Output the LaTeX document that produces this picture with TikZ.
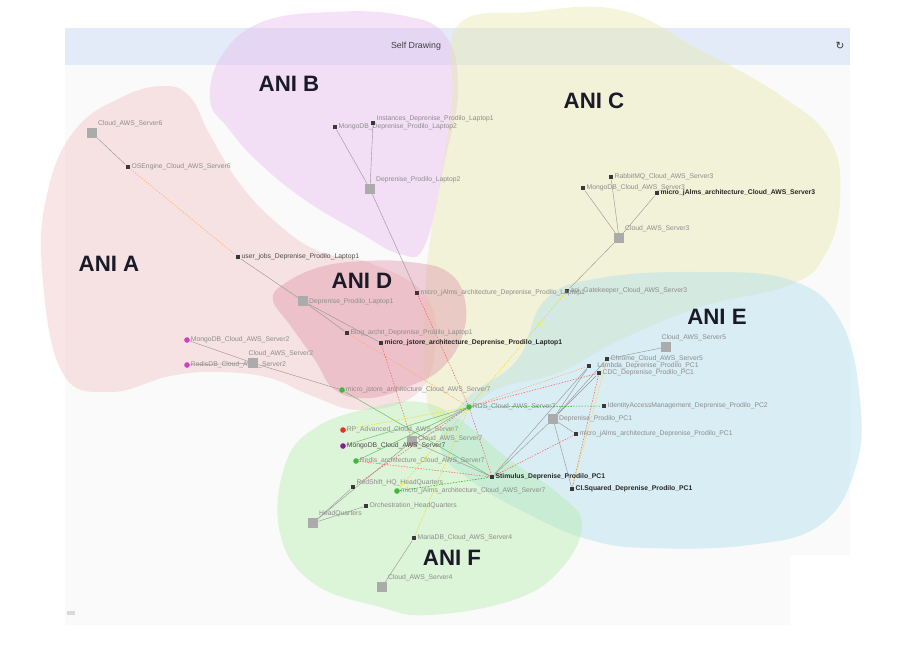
\documentclass[tikz,border=0pt]{standalone}
\usepackage{fontspec}
\setmainfont{Liberation Sans}
\newfontfamily\symfont{DejaVu Sans}
\pgfdeclarelayer{bottom}
\pgfdeclarelayer{blobs}
\pgfdeclarelayer{edges}
\pgfsetlayers{bottom,blobs,edges,main}
\definecolor{panel}{HTML}{FAFAFA}
\definecolor{barblue}{HTML}{E4EBF8}
\definecolor{cA}{HTML}{F0C0C0}
\definecolor{cB}{HTML}{E8B8F0}
\definecolor{cC}{HTML}{E8E8A8}
\definecolor{cD}{HTML}{E090A8}
\definecolor{cE}{HTML}{A8DCEC}
\definecolor{cF}{HTML}{B0ECA4}
\definecolor{anicol}{HTML}{1A1A28}
\definecolor{gnode}{HTML}{40B840}
\definecolor{mnode}{HTML}{D040C0}
\definecolor{pnode}{HTML}{8A1A9A}
\definecolor{rnode}{HTML}{E83030}
\begin{document}
\begin{tikzpicture}[x=0.03cm,y=-0.03cm,
  blob/.style={fill=#1,fill opacity=0.4,draw=none},
  sm/.style={rectangle,fill=black!78,minimum size=4.2pt,inner sep=0pt},
  bigsq/.style={rectangle,fill=black!33,minimum size=8.5pt,inner sep=0pt},
  cnode/.style={circle,fill=#1,minimum size=4.8pt,inner sep=0pt},
  lbl/.style={font=\fontsize{5.8}{6}\selectfont,text=black!45,inner sep=0.6pt},
  lbd/.style={font=\fontsize{5.8}{6}\selectfont\bfseries,text=black!85,inner sep=0.6pt},
  lbm/.style={font=\fontsize{5.8}{6}\selectfont,text=black!70,inner sep=0.6pt},
  ani/.style={font=\fontsize{19}{21}\selectfont\bfseries,text=anicol},
  gl/.style={draw=black!42,line width=0.35pt},
  gs/.style={draw=green!55!black!60,line width=0.4pt},
  od/.style={draw=orange!65,line width=0.45pt,dash pattern=on 1.2pt off 1.2pt},
  rd/.style={draw=red!65,line width=0.45pt,dash pattern=on 1.2pt off 1.2pt},
  yd/.style={draw=yellow!75!orange,line width=0.45pt,dash pattern=on 1.2pt off 1.2pt},
  gd/.style={draw=green!70!black,line width=0.45pt,dash pattern=on 1.2pt off 1.2pt}
]
\useasboundingbox (0,0) rectangle (908,650);
\begin{pgfonlayer}{bottom}
\fill[white] (0,0) rectangle (908,650);
\fill[panel] (65,28) -- (850,28) -- (850,555) -- (790,555) -- (790,625) -- (65,625) -- cycle;
\fill[barblue] (65,28) rectangle (850,65);
\fill[black!15] (67,611) rectangle (75,615);
\end{pgfonlayer}
\node[font=\fontsize{7.5}{8}\selectfont,text=black!75] (title) at (416,46) {Self Drawing};
\node[font=\symfont\fontsize{9}{10}\selectfont,text=black!80] (refresh) at (840,46) {↻};

\begin{pgfonlayer}{blobs}
\fill[blob=cA] plot[smooth cycle,tension=0.7] coordinates {(42,270) (48,190) (75,130) (120,98) (163,86) (190,97) (210,135) (240,184) (278,224) (320,252) (370,263) (425,295) (435,350) (415,395) (360,410) (310,395) (270,378) (220,372) (170,376) (110,392) (62,372)};
\fill[blob=cB] plot[smooth cycle,tension=0.7] coordinates {(210,100) (222,55) (262,22) (330,12) (400,15) (445,35) (458,90) (445,160) (425,245) (400,254) (360,233) (302,198) (256,160) (228,128)};
\fill[blob=cC] plot[smooth cycle,tension=0.7] coordinates {(458,25) (530,12) (620,10) (700,50) (780,95) (830,140) (840,200) (825,255) (790,285) (700,307) (620,340) (560,372) (500,388) (462,412) (435,420) (425,380) (425,300) (430,240) (442,170) (452,100)};
\fill[blob=cD] plot[smooth cycle,tension=0.7] coordinates {(273,300) (284,284) (320,267) (365,261) (410,262) (448,272) (465,300) (462,337) (442,368) (412,385) (370,398) (335,390) (315,360) (290,325)};
\fill[blob=cE] plot[smooth cycle,tension=0.7] coordinates {(600,278) (700,272) (790,280) (840,320) (860,400) (855,470) (820,525) (750,545) (650,548) (590,540) (530,515) (470,480) (440,445) (465,400) (517,360) (545,300)};
\fill[blob=cF] plot[smooth cycle,tension=0.7] coordinates {(280,533) (285,465) (315,428) (370,408) (420,402) (460,420) (510,460) (560,495) (582,525) (560,570) (513,600) (430,615) (380,607) (313,583)};
\end{pgfonlayer}

% group titles
\node[ani] (tA) at (109,264) {ANI A};
\node[ani] (tB) at (289,84) {ANI B};
\node[ani] (tC) at (594,101) {ANI C};
\node[ani] (tD) at (362,281) {ANI D};
\node[ani] (tE) at (717,317) {ANI E};
\node[ani] (tF) at (452,558) {ANI F};

% ANI A
\node[bigsq,label={[lbl,anchor=south west]north east:Cloud\_AWS\_Server6}] (a1) at (92,133) {};
\node[sm,label={[lbl]0:OSEngine\_Cloud\_AWS\_Server6}] (a2) at (128,167) {};
\node[sm,label={[lbm]0:user\_jobs\_Deprenise\_Prodilo\_Laptop1}] (a3) at (238,257) {};
\node[cnode=mnode,label={[lbl]0:MongoDB\_Cloud\_AWS\_Server2}] (p1) at (187,340) {};
\node[cnode=mnode,label={[lbl]0:RedisDB\_Cloud\_AWS\_Server2}] (p2) at (187,365) {};
\node[bigsq,label={[lbl,anchor=south west]north west:Cloud\_AWS\_Server2}] (p3) at (253,363) {};
% ANI B
\node[sm,label={[lbl]0:MongoDB\_Deprenise\_Prodilo\_Laptop2}] (b1) at (335,127) {};
\node[sm,label={[lbl,anchor=south west]east:Instances\_Deprenise\_Prodilo\_Laptop1}] (b2) at (373,123) {};
\node[bigsq,label={[lbl,anchor=south west]north east:Deprenise\_Prodilo\_Laptop2}] (b3) at (370,189) {};
% ANI C
\node[sm,label={[lbl]0:RabbitMQ\_Cloud\_AWS\_Server3}] (c1) at (611,177) {};
\node[sm,label={[lbl]0:MongoDB\_Cloud\_AWS\_Server3}] (c2) at (583,188) {};
\node[sm,label={[lbd]0:micro\_jAlms\_architecture\_Cloud\_AWS\_Server3}] (c3) at (657,193) {};
\node[bigsq,label={[lbl,anchor=south west]north east:Cloud\_AWS\_Server3}] (c4) at (619,238) {};
\node[sm,label={[lbl]0:api\_Gatekeeper\_Cloud\_AWS\_Server3}] (c5) at (567,291) {};
% ANI D
\node[bigsq,label={[lbl,yshift=-1pt]0:Deprenise\_Prodilo\_Laptop1}] (d1) at (303,301) {};
\node[sm,label={[lbl]0:Blog\_archit\_Deprenise\_Prodilo\_Laptop1}] (d2) at (347,333) {};
\node[sm,label={[lbd]0:micro\_jstore\_architecture\_Deprenise\_Prodilo\_Laptop1}] (d3) at (381,343) {};
\node[sm,label={[lbl]0:micro\_jAlms\_architecture\_Deprenise\_Prodilo\_Laptop1}] (d4) at (417,293) {};
% ANI F
\node[cnode=gnode,label={[lbl]0:micro\_jstore\_architecture\_Cloud\_AWS\_Server7}] (g1) at (342,390) {};
\node[cnode=gnode,label={[lbl]0:RDS\_Cloud\_AWS\_Server7}] (g2) at (469,407) {};
\node[bigsq,label={[lbl,anchor=west,yshift=2pt]east:Cloud\_AWS\_Server7}] (g3) at (412,441) {};
\node[cnode=rnode,label={[lbl]0:RP\_Advanced\_Cloud\_AWS\_Server7}] (r1) at (343,430) {};
\node[cnode=pnode,label={[lbm]0:MongoDB\_Cloud\_AWS\_Server7}] (m1) at (343,446) {};
\node[cnode=gnode,label={[lbl]0:Redis\_architecture\_Cloud\_AWS\_Server7}] (g4) at (356,461) {};
\node[sm,label={[lbl,anchor=south west]east:RedShift\_HQ\_HeadQuarters}] (f1) at (353,487) {};
\node[cnode=gnode,label={[lbl]0:micro\_jAlms\_architecture\_Cloud\_AWS\_Server7}] (g5) at (397,491) {};
\node[sm,label={[lbl]0:Orchestration\_HeadQuarters}] (f2) at (366,506) {};
\node[bigsq,label={[lbl,anchor=south west]north east:HeadQuarters}] (f3) at (313,523) {};
\node[sm,label={[lbl]0:MariaDB\_Cloud\_AWS\_Server4}] (f4) at (414,538) {};
\node[bigsq,label={[lbl,anchor=south west]north east:Cloud\_AWS\_Server4}] (f5) at (382,587) {};
% ANI E
\node[sm,label={[lbd]0:Stimulus\_Deprenise\_Prodilo\_PC1}] (e1) at (492,477) {};
\node[sm,label={[lbd]0:Cl.Squared\_Deprenise\_Prodilo\_PC1}] (e2) at (572,489) {};
\node[bigsq,label={[lbl]0:Deprenise\_Prodilo\_PC1}] (e3) at (553,419) {};
\node[sm,label={[lbl]0:micro\_jAlms\_architecture\_Deprenise\_Prodilo\_PC1}] (e4) at (576,434) {};
\node[sm,label={[lbl]0:IdentityAccessManagement\_Deprenise\_Prodilo\_PC2}] (e5) at (604,406) {};
\node[sm,label={[lbl]0:Chrome\_Cloud\_AWS\_Server5}] (e6) at (607,359) {};
\node[sm,label={[lbl,xshift=4pt]0:Lambda\_Deprenise\_Prodilo\_PC1}] (e7) at (589,366) {};
\node[sm,label={[lbl]0:CDC\_Deprenise\_Prodilo\_PC1}] (e8) at (599,373) {};
\node[bigsq,label={[lbl,anchor=south west]north west:Cloud\_AWS\_Server5}] (e9) at (666,347) {};

\begin{pgfonlayer}{edges}
% gray solid
\draw[gl] (a1) -- (a2);
\draw[gl] (a3) -- (d1);
\draw[gl] (d1) -- (d2);
\draw[gl] (d1) -- (d3);
\draw[gl] (b1) -- (b3);
\draw[gl] (b2) -- (b3);
\draw[gl] (b3) -- (d4);
\draw[gl] (c1) -- (c4);
\draw[gl] (c2) -- (c4);
\draw[gl] (c3) -- (c4);
\draw[gl] (c4) -- (c5);
\draw[gl] (p1) -- (p3);
\draw[gl] (p2) -- (p3);
\draw[gl] (p3) -- (g1);
\draw[gl] (e9) -- (e6);
\draw[gl] (e3) -- (e6);
\draw[gl] (e3) -- (e7);
\draw[gl] (e3) -- (e8);
\draw[gl] (e3) -- (e4);
\draw[gl] (e3) -- (e1);
\draw[gl] (e3) -- (e2);
\draw[gl] (e1) -- (e7);
\draw[gl] (f3) -- (f1);
\draw[gl] (f3) -- (f2);
\draw[gl] (f4) -- (f5);
\draw[gl] (f3) -- (g3);
\draw[gl] (g3) -- (g2);
\draw[gl] (g3) -- (e1);
% green solid
\draw[gs] (g2) -- (m1);
\draw[gs] (g2) -- (g4);
\draw[gs] (g1) -- (e1);
% dotted
\draw[od] (a2) -- (a3);
\draw[od] (d2) -- (g2);
\draw[od] (g2) -- (e7);
\draw[yd] (c5) -- (g2);
\draw[rd] (d4) -- (g2);
\draw[rd] (d3) -- (g3);
\draw[rd] (g2) -- (e8);
\draw[rd] (e8) -- (e2);
\draw[rd] (e1) -- (e4);
\draw[rd] (g2) -- (e1);
\draw[rd] (g2) -- (f1);
\draw[rd] (g4) -- (e1);
\draw[yd] (f4) -- (g2);
\draw[yd] (e6) -- (e2);
\draw[yd] (g2) -- (g5);
\draw[yd] (r1) -- (g2);
\draw[gd] (g2) -- (e5);
\draw[gd] (g5) -- (e1);
\end{pgfonlayer}
\end{tikzpicture}
\end{document}
